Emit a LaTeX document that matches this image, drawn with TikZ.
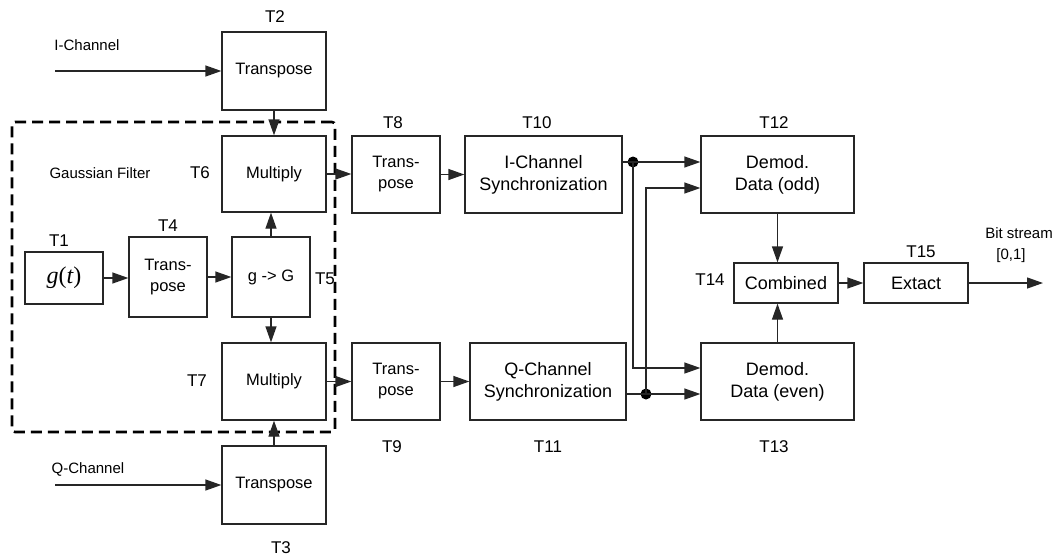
\documentclass[tikz,border=0pt]{standalone}
\usepackage{fontspec}
\setmainfont{Liberation Sans}
\newfontfamily\timesf{Liberation Serif}
\usetikzlibrary{arrows.meta,calc}
\begin{document}
\begin{tikzpicture}[x=1pt,y=-1pt,
 blk/.style={draw=black!85, line width=1.3pt, inner sep=0pt, align=center, font=\fontsize{16.5}{21}\selectfont},
 blkL/.style={blk, font=\fontsize{18}{22}\selectfont},
 lbl/.style={font=\fontsize{17}{20}\selectfont, inner sep=0pt},
 sml/.style={font=\fontsize{15}{18}\selectfont, inner sep=0pt},
 arr/.style={-{Triangle[length=16pt,width=11pt]}, line width=1.3pt, draw=black!85},
 ln/.style={line width=1.3pt, draw=black!85},
 dotn/.style={circle, fill=black, inner sep=0pt, minimum size=11pt},
 gfbox/.style={draw=black, line width=2.6pt, dash pattern=on 11pt off 6pt, rounded corners=3pt, inner sep=0pt}]
\useasboundingbox (0,0) rectangle (1054,558);

% Gaussian filter dashed frame
\node[gfbox, minimum width=323pt, minimum height=310pt] (gf) at (173.5,277) {};
\node[sml] (gft) at (100,173) {Gaussian Filter};

% blocks
\node[blk, minimum width=104pt, minimum height=78pt] (T2) at (274,71) {Transpose};
\node[blk, minimum width=104pt, minimum height=76pt] (T6) at (274,174) {Multiply};
\node[blk, minimum width=104pt, minimum height=77pt] (T7) at (274,381.5) {Multiply};
\node[blk, minimum width=104pt, minimum height=78pt] (T3) at (274,485) {Transpose};
\node[blk, minimum width=78pt, minimum height=52pt] (T1) at (64,278) {\fontsize{24}{26}\timesf\itshape g\upshape(\itshape t\upshape)};
\node[blk, minimum width=78pt, minimum height=80pt] (T4) at (168,277) {Trans-\\pose};
\node[blk, minimum width=78pt, minimum height=80pt] (T5) at (271,277) {g -> G};
\node[blk, minimum width=88pt, minimum height=77pt] (T8) at (396,174.5) {Trans-\\pose};
\node[blkL, minimum width=157pt, minimum height=77pt] (T10) at (543.5,174.5) {I-Channel\\Synchronization};
\node[blk, minimum width=88pt, minimum height=77pt] (T9) at (396,381.5) {Trans-\\pose};
\node[blkL, minimum width=156pt, minimum height=77pt] (T11) at (548,381.5) {Q-Channel\\Synchronization};
\node[blkL, minimum width=153pt, minimum height=77pt] (T12) at (777.5,174.5) {Demod.\\Data (odd)};
\node[blkL, minimum width=153pt, minimum height=77pt] (T13) at (777.5,381.5) {Demod.\\Data (even)};
\node[blkL, minimum width=104pt, minimum height=40pt] (T14) at (786,283) {Combined};
\node[blkL, minimum width=104pt, minimum height=40pt] (T15) at (916,283) {Extact};

% labels
\node[lbl] (lT1) at (59,241) {T1};
\node[lbl] (lT2) at (275,17) {T2};
\node[lbl] (lT3) at (281,548) {T3};
\node[lbl] (lT4) at (168,226) {T4};
\node[lbl] (lT5) at (325,279) {T5};
\node[lbl] (lT6) at (200,173) {T6};
\node[lbl] (lT7) at (197,381) {T7};
\node[lbl] (lT8) at (393,123) {T8};
\node[lbl] (lT9) at (392,447) {T9};
\node[lbl] (lT10) at (537,123) {T10};
\node[lbl] (lT11) at (548,447) {T11};
\node[lbl] (lT12) at (774,123) {T12};
\node[lbl] (lT13) at (774,447) {T13};
\node[lbl] (lT14) at (710,280) {T14};
\node[lbl] (lT15) at (921,252) {T15};
\node[sml] (ichT) at (87,45) {I-Channel};
\node[sml] (qchT) at (88,469) {Q-Channel};
\node[sml] (bsT) at (1019,233) {Bit stream};
\node[sml] (bsR) at (1011,256) {[0,1]};

% free ends
\coordinate (ich) at (55,71);
\coordinate (qch) at (55,485);
\coordinate (out) at (1043,283);
\node[dotn] (dI) at (633,162) {};
\node[dotn] (dQ) at (646,394) {};

% connectors
\draw[arr] (ich) -- (T2.west);
\draw[arr] (T2.south) -- (T6.north);
\draw[arr] (T5.north) -- (T5.north |- T6.south);
\draw[arr] (T5.south) -- (T5.south |- T7.north);
\draw[arr] (T3.north) -- (T7.south);
\draw[arr] (qch) -- (T3.west);
\draw[arr] (T1.east) -- (T1.east -| T4.west);
\draw[arr] (T4) -- (T5);
\draw[arr] (T6.east) -- (T6.east -| T8.west);
\draw[arr] (T8) -- (T10);
\draw[arr] (T7.east) -- (T7.east -| T9.west);
\draw[arr] (T9) -- (T11);
\draw[ln] (T10.east |- dI.center) -- (dI.center);
\draw[arr] (dI.center) -- (dI.center -| T12.west);
\draw[arr] (dI.center) |- ($(T13.west)+(0,-13.5)$);
\draw[ln] (T11.east |- dQ.center) -- (dQ.center);
\draw[arr] (dQ.center) -- (dQ.center -| T13.west);
\draw[arr] (dQ.center) |- ($(T12.west)+(0,13.5)$);
\draw[arr] (T12.south) -- (T12.south |- T14.north);
\draw[arr] (T13.north) -- (T13.north |- T14.south);
\draw[arr] (T14) -- (T15);
\draw[arr] (T15.east) -- (out);
\end{tikzpicture}
\end{document}
